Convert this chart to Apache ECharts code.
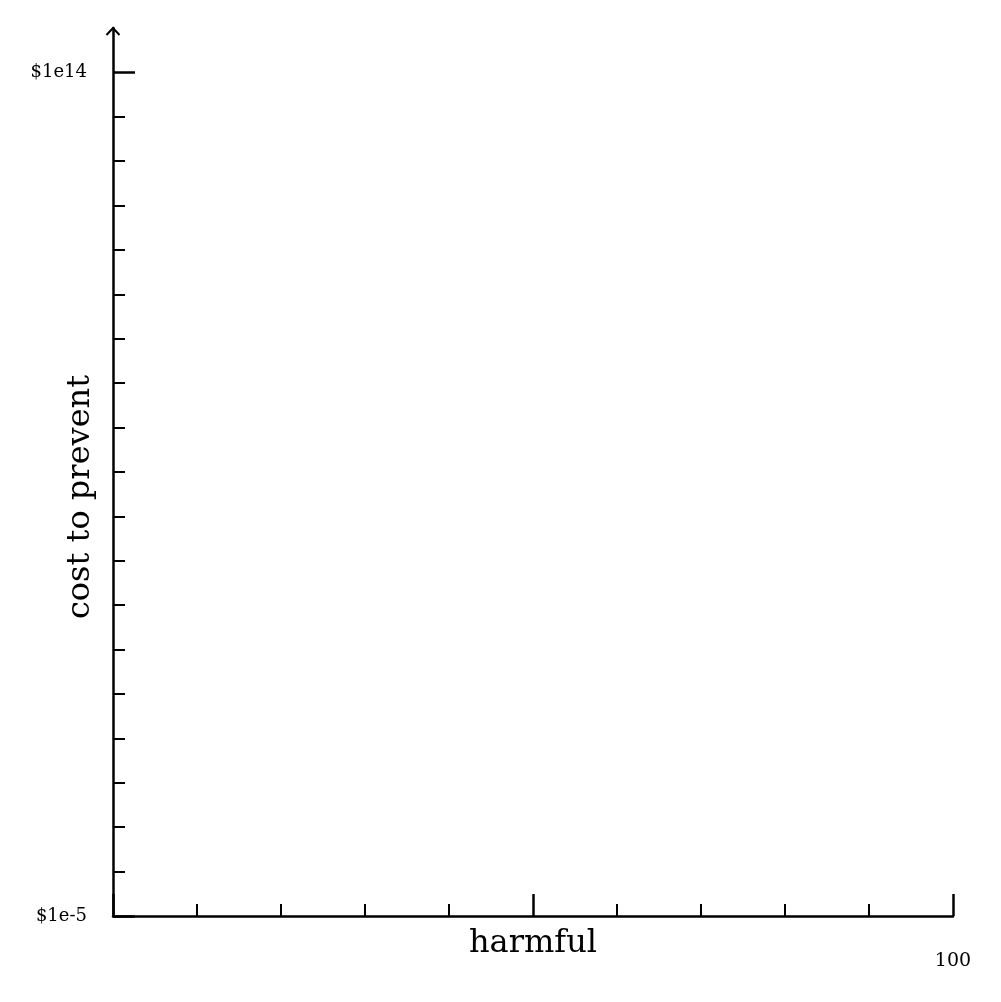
<!DOCTYPE html>
<html>
<head>
<meta charset="utf-8">
<script src="https://cdn.jsdelivr.net/npm/echarts@6/dist/echarts.min.js"></script>
<style>
  html, body { margin: 0; padding: 0; background: #fff; }
  #main { width: 1001px; height: 1002px; }
</style>
</head>
<body>
<div id="main"></div>
<script>
// axis ranges and ticks
var xRange = [0, 100];
var xMinorTicks = [10, 20, 30, 40, 60, 70, 80, 90];
var xMajorTicks = [0, 50, 100];
var xTickLabels = ['100'];
var yRange = [1e-5, 1e15];
var yMinorTicks = [1e-4, 1e-3, 1e-2, 1e-1, 1, 1e1, 1e2, 1e3, 1e4, 1e5, 1e6, 1e7, 1e8, 1e9, 1e10, 1e11, 1e12, 1e13];
var yMajorTicks = [1e-5, 1e14];
var yTickLabels = ['$1e-5', '$1e14'];

var font = 'DejaVu Serif';
var black = '#000';

var myChart = echarts.init(document.getElementById('main'));
myChart.setOption({
    animation: false,
    backgroundColor: '#fff',
    grid: { left: 113, right: 48, top: 28, bottom: 86, outerBoundsMode: 'none', containLabel: false },
    xAxis: [{
        type: 'value',
        min: xRange[0],
        max: xRange[1],
        name: 'harmful',
        nameLocation: 'middle',
        nameGap: 12,
        nameMoveOverlap: false,
        nameTextStyle: { fontFamily: font, fontSize: 32, color: black, verticalAlign: 'top' },
        axisLine: { lineStyle: { color: black, width: 2.5 } },
        axisTick: { inside: true, length: 12, customValues: xMinorTicks, lineStyle: { color: black, width: 2 } },
        axisLabel: {
            customValues: [100],
            margin: 36,
            fontFamily: font, fontSize: 19, color: black,
            formatter: function () { return xTickLabels[0]; }
        },
        splitLine: { show: false }
    }, {
        type: 'value',
        position: 'bottom',
        min: xRange[0],
        max: xRange[1],
        axisLine: { show: false },
        axisTick: { inside: true, length: 22, customValues: xMajorTicks, lineStyle: { color: black, width: 2.5 } },
        axisLabel: { show: false },
        splitLine: { show: false }
    }],
    yAxis: [{
        type: 'log',
        logBase: 10,
        min: yRange[0],
        max: yRange[1],
        name: 'cost to prevent',
        nameLocation: 'middle',
        nameGap: 16,
        nameMoveOverlap: false,
        nameTextStyle: { fontFamily: font, fontSize: 32, color: black, padding: [0, 50, 0, 0] },
        axisLine: { lineStyle: { color: black, width: 2.5 } },
        axisTick: { inside: true, length: 12, customValues: yMinorTicks, lineStyle: { color: black, width: 2 } },
        axisLabel: { show: false },
        splitLine: { show: false }
    }, {
        type: 'log',
        logBase: 10,
        position: 'left',
        min: yRange[0],
        max: yRange[1],
        axisLine: { show: false },
        axisTick: { inside: true, length: 22, customValues: yMajorTicks, lineStyle: { color: black, width: 2.5 } },
        axisLabel: {
            customValues: yMajorTicks,
            margin: 26,
            fontFamily: font, fontSize: 18, color: black,
            formatter: function (v) { return yTickLabels[yMajorTicks.indexOf(v)] || ''; }
        },
        splitLine: { show: false }
    }],
    series: [{ type: 'scatter', data: [] }]
});

// open arrow head at the top of the y axis
var tipX = myChart.convertToPixel({ xAxisIndex: 0 }, xRange[0]);
var tipY = myChart.convertToPixel({ yAxisIndex: 0 }, yRange[1]);
myChart.setOption({
    graphic: [{
        type: 'polyline',
        shape: { points: [[tipX - 6.5, tipY + 7], [tipX, tipY], [tipX + 6.5, tipY + 7]] },
        style: { stroke: black, lineWidth: 2, fill: null }
    }]
});
</script>
</body>
</html>
